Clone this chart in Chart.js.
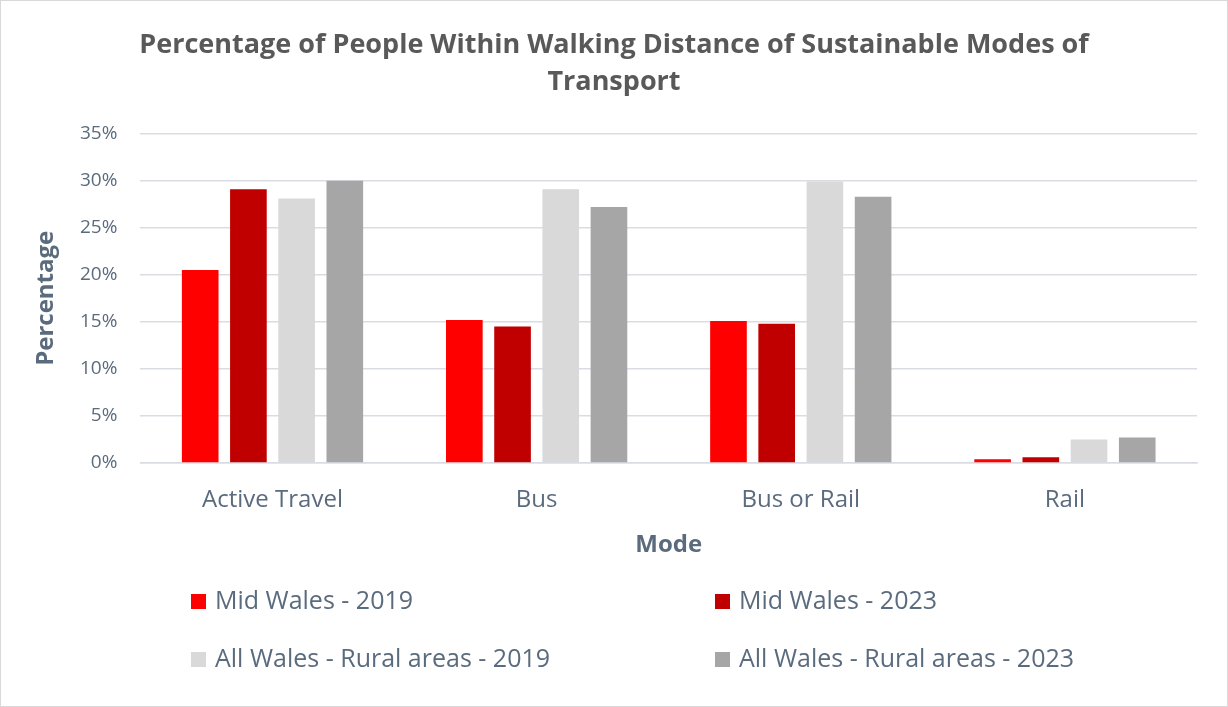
<!DOCTYPE html>
<html>
<head>
<meta charset="utf-8">
<script src="https://cdn.jsdelivr.net/npm/chart.js@4.4.1/dist/chart.umd.min.js"></script>
<style>
  html, body { margin: 0; padding: 0; background: #fff; }
  #frame {
    position: relative;
    width: 1228px; height: 707px;
    box-sizing: border-box;
    border: 1px solid #d9d9d9;
    background: #fff;
  }
  #chart { position: absolute; left: 0; top: 0; }
  #legend { position: absolute; left: 0; top: 0; width: 100%; height: 100%; pointer-events: none; }
  .legend-item {
    position: absolute;
    font-family: "Open Sans", sans-serif;
    font-size: 25px;
    color: #5b6b7e;
    white-space: nowrap;
    line-height: 30px;
  }
  .legend-box { display: inline-block; width: 15px; height: 15px; margin-right: 9px; vertical-align: 0px; }
</style>
</head>
<body>
<div id="frame">
  <canvas id="chart" width="1226" height="705"></canvas>
  <div id="legend"></div>
</div>
<script>
// ==========================
// Data
// ==========================
const modes = ["Active Travel", "Bus", "Bus or Rail", "Rail"];
const seriesLabels = [
  "Mid Wales - 2019",
  "Mid Wales - 2023",
  "All Wales - Rural areas - 2019",
  "All Wales - Rural areas - 2023"
];
const midWales2019 = [20.5, 15.2, 15.1, 0.4];
const midWales2023 = [29.1, 14.5, 14.8, 0.6];
const allWalesRural2019 = [28.1, 29.1, 29.9, 2.5];
const allWalesRural2023 = [30.0, 27.2, 28.3, 2.7];
const seriesColors = ["#ff0000", "#c00000", "#d9d9d9", "#a6a6a6"];

const FONT = "'Open Sans', sans-serif";
const TEXT_COLOR = "#5b6b7e";
const GRID_COLOR = "#d9dde3";

const seriesValues = [midWales2019, midWales2023, allWalesRural2019, allWalesRural2023];

const ctx = document.getElementById("chart").getContext("2d");
const chart = new Chart(ctx, {
  type: "bar",
  data: {
    labels: modes,
    datasets: seriesValues.map((vals, i) => ({
      label: seriesLabels[i],
      data: vals,
      backgroundColor: seriesColors[i],
      borderWidth: 0,
      categoryPercentage: 0.73,
      barPercentage: 0.76
    }))
  },
  options: {
    responsive: false,
    animation: false,
    layout: { padding: { top: 25, left: 30, right: 30, bottom: 146 } },
    plugins: {
      legend: { display: false },
      tooltip: { enabled: false },
      title: {
        display: true,
        text: ["Percentage of People Within Walking Distance of Sustainable Modes of", "Transport"],
        color: "#595959",
        font: { family: FONT, size: 27, weight: "bold", lineHeight: 1.4 },
        padding: { top: 0, bottom: 32 }
      }
    },
    scales: {
      x: {
        grid: { display: false, drawTicks: false },
        border: { display: true, color: GRID_COLOR, width: 1.5 },
        ticks: { color: TEXT_COLOR, font: { family: FONT, size: 24, lineHeight: 1.25 }, padding: 22 },
        title: {
          display: true, text: "Mode", color: TEXT_COLOR,
          font: { family: FONT, size: 24, weight: "bold", lineHeight: 1.25 },
          padding: { top: -7, bottom: 0 }
        }
      },
      y: {
        min: 0, max: 35,
        grid: { color: GRID_COLOR, lineWidth: 1.5, drawTicks: false },
        border: { display: false },
        ticks: {
          stepSize: 5, color: TEXT_COLOR, padding: 23,
          font: { family: FONT, size: 19 },
          callback: v => v + "%"
        },
        title: {
          display: true, text: "Percentage", color: TEXT_COLOR,
          font: { family: FONT, size: 24, weight: "bold", lineHeight: 1.25 },
          padding: { top: 0, bottom: -4 }
        }
      }
    }
  }
});

// ==========================
// Legend (two columns, built from datasets)
// ==========================
const legendEl = document.getElementById("legend");
const legendSlots = [[190, 583], [714, 583], [190, 641], [714, 641]];
chart.data.datasets.forEach((ds, i) => {
  const item = document.createElement("div");
  item.className = "legend-item";
  item.style.left = legendSlots[i][0] + "px";
  item.style.top = legendSlots[i][1] + "px";
  const box = document.createElement("span");
  box.className = "legend-box";
  box.style.background = ds.backgroundColor;
  item.appendChild(box);
  item.appendChild(document.createTextNode(ds.label));
  legendEl.appendChild(item);
});
</script>
</body>
</html>
